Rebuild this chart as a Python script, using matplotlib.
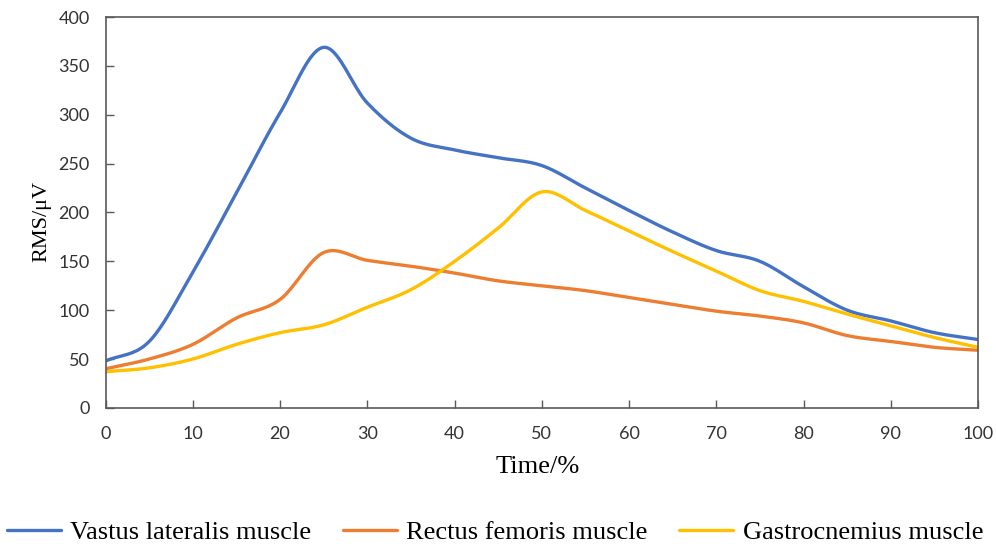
import numpy as np
import matplotlib.pyplot as plt

plt.rcParams["font.family"] = ["Liberation Serif", "DejaVu Serif"]

time_pct = [0, 5, 10, 15, 20, 25, 30, 35, 40, 45, 50,
            55, 60, 65, 70, 75, 80, 85, 90, 95, 100]
vastus = [48, 68, 139, 220, 302, 369, 312, 276, 264, 256, 248,
          225, 202, 180, 161, 150, 124, 100, 89, 77, 70]
rectus = [40, 50, 65, 92, 111, 159, 151, 145, 138, 130, 125,
          120, 113, 106, 99, 94, 87, 74, 68, 62, 59]
gastro = [37, 41, 50, 65, 77, 85, 103, 121, 150, 184, 221,
          202, 181, 160, 140, 120, 109, 96, 84, 72, 62]

labels = ["Vastus lateralis muscle", "Rectus femoris muscle", "Gastrocnemius muscle"]
colors = ["#4472C4", "#ED7D31", "#FFC000"]


def smooth(x, y, n=20):
    # catmull-rom style smoothing, like a spreadsheet "smoothed line"
    x = np.asarray(x, float)
    y = np.asarray(y, float)
    px = np.concatenate([[2 * x[0] - x[1]], x, [2 * x[-1] - x[-2]]])
    py = np.concatenate([[2 * y[0] - y[1]], y, [2 * y[-1] - y[-2]]])
    t = np.linspace(0, 1, n, endpoint=False)
    xs, ys = [], []
    for i in range(1, len(px) - 2):
        for p, out in ((px, xs), (py, ys)):
            p0, p1, p2, p3 = p[i - 1], p[i], p[i + 1], p[i + 2]
            out.extend(0.5 * (2 * p1 + (-p0 + p2) * t
                              + (2 * p0 - 5 * p1 + 4 * p2 - p3) * t ** 2
                              + (-p0 + 3 * p1 - 3 * p2 + p3) * t ** 3))
    xs.append(x[-1])
    ys.append(y[-1])
    return np.array(xs), np.array(ys)


fig = plt.figure(figsize=(9.96, 5.49), dpi=100)
ax = fig.add_axes([0.106, 0.257, 0.876, 0.712])

for series, lab, col in zip([vastus, rectus, gastro], labels, colors):
    sx, sy = smooth(time_pct, series)
    ax.plot(sx, sy, color=col, lw=2.4, label=lab, solid_capstyle="round")

ax.set_xlim(0, 100)
ax.set_ylim(0, 400)
ax.set_xticks(range(0, 101, 10))
ax.set_yticks(range(0, 401, 50))
ax.tick_params(direction="in", length=6, width=1, color="#595959")
ax.tick_params(axis="x", pad=13)
ax.tick_params(axis="y", pad=11.5)
for lbl in ax.get_xticklabels() + ax.get_yticklabels():
    lbl.set_family("Lato")
    lbl.set_fontsize(13)
    lbl.set_color("#333333")
for s in ax.spines.values():
    s.set_color("#595959")
    s.set_linewidth(1.2)

ax.set_xlabel("Time/%", fontsize=19)
ax.xaxis.set_label_coords(0.495, -0.151)
ax.xaxis.label.set_va("center")
ax.set_ylabel("RMS/μV", fontsize=16)
ax.yaxis.set_label_coords(-0.073, 0.476)
ax.yaxis.label.set_va("center")

fig.legend(loc="center", bbox_to_anchor=(0.497, 0.030), ncol=3, frameon=False,
           fontsize=19, handlelength=2.05, columnspacing=1.2, handletextpad=0.35,
           borderpad=0, borderaxespad=0)

fig.savefig("out.png", dpi=100)
